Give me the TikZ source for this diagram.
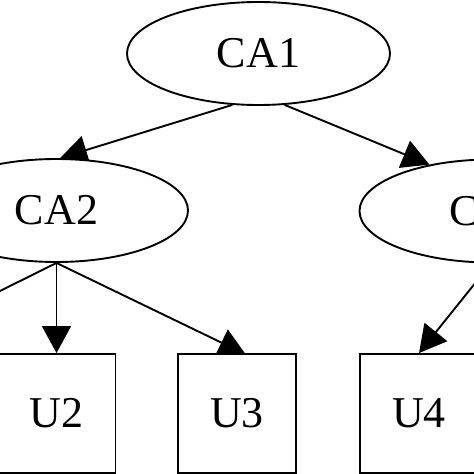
\documentclass[tikz,border=0pt]{standalone}
\usepackage{fontspec}
\setmainfont{Liberation Serif}
\usetikzlibrary{shapes.geometric,arrows.meta}
\pgfdeclarelayer{background}
\pgfsetlayers{background,main}
\begin{document}
\begin{tikzpicture}[x=1pt,y=-1pt,
  every node/.style={font=\fontsize{44}{50}\selectfont, line width=1.9pt, draw=black, fill=white, inner sep=0pt},
  caell/.style={ellipse, minimum width=263pt, minimum height=103pt},
  ubox/.style={rectangle, minimum width=118pt, minimum height=119pt},
  edge/.style={line width=1.9pt, -{Triangle[length=27pt,width=29pt]}}]
\useasboundingbox (0,0) rectangle (474,474);
\clip (0,0) rectangle (474,474);
\node[caell] (CA1) at (258.5,53.5) {CA1};
\node[caell] (CA2) at (56.5,210.5) {CA2};
\node[caell] (CA3) at (491,211) {CA3};
\node[ubox] (U2) at (56.5,413.5) {U2};
\node[ubox] (U3) at (237,413.5) {U3};
\node[ubox] (U4) at (419,413.5) {U4};
\coordinate (U1n) at (-127,354);
\begin{pgfonlayer}{background}
\clip (0,0) rectangle (474,474);
\draw[edge] (CA1.243) -- (CA2.86);
\draw[edge] (CA1.297) -- (CA3.143);
\draw[edge] (CA2.south) -- (U1n);
\draw[edge] (CA2.south) -- (U2.north);
\draw[edge, shorten >=-3pt] (CA2.south) -- ([xshift=6pt]U3.north);
\draw[edge] (CA3.south) -- (U4.north);
\end{pgfonlayer}
\end{tikzpicture}
\end{document}
